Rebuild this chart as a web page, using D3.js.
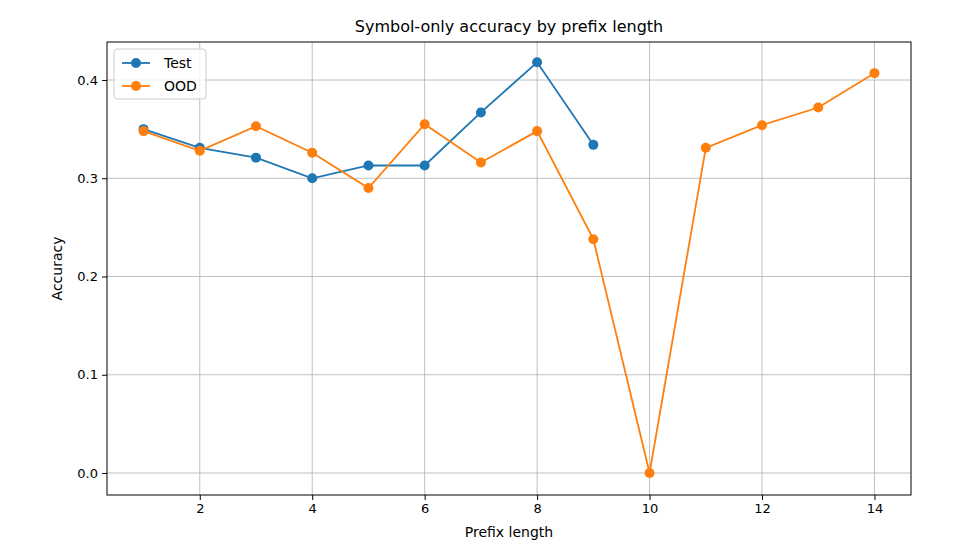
<!DOCTYPE html>
<html><head><meta charset="utf-8">
<script src="https://cdn.jsdelivr.net/npm/d3@7"></script>
<style>body{margin:0;background:#fff}text{font-family:"DejaVu Sans",sans-serif}</style>
</head><body>
<svg id="chart" width="960" height="540"></svg>
<script>
const prefixTest = [1,2,3,4,5,6,7,8,9];
const accTest = [0.350,0.331,0.321,0.300,0.313,0.313,0.367,0.418,0.334];
const prefixOod = [1,2,3,4,5,6,7,8,9,10,11,12,13,14];
const accOod = [0.348,0.328,0.353,0.326,0.290,0.355,0.316,0.348,0.238,0.0,0.331,0.354,0.372,0.407];
const xTicks = [2,4,6,8,10,12,14];
const yTicks = [0,0.1,0.2,0.3,0.4];

const svg = d3.select("#chart");
const L = 107, R = 911, T = 42, B = 495;
const x = d3.scaleLinear().domain([0.35,14.65]).range([L,R]);
const y = d3.scaleLinear().domain([-0.0224,0.4387]).range([B,T]);

const grid = svg.append("g").attr("stroke","#b0b0b0").attr("stroke-width",0.8);
xTicks.forEach(t => grid.append("line").attr("x1",x(t)).attr("x2",x(t)).attr("y1",T).attr("y2",B));
yTicks.forEach(t => grid.append("line").attr("x1",L).attr("x2",R).attr("y1",y(t)).attr("y2",y(t)));

const ax = svg.append("g").attr("transform","translate(0,"+B+")")
  .call(d3.axisBottom(x).tickValues(xTicks).tickSize(5).tickPadding(4).tickFormat(d3.format("d")));
const ay = svg.append("g").attr("transform","translate("+L+",0)")
  .call(d3.axisLeft(y).tickValues(yTicks).tickSize(5).tickPadding(4).tickFormat(d3.format(".1f")));
[ax,ay].forEach(a => { a.select(".domain").remove(); a.selectAll("text").attr("font-size",13).attr("fill","#000"); });
svg.append("rect").attr("x",L).attr("y",T).attr("width",R-L).attr("height",B-T)
  .attr("fill","none").attr("stroke","#000").attr("stroke-width",1);

function series(xs, ys, color){
  const pts = xs.map((d,i)=>[d,ys[i]]);
  svg.append("path").datum(pts).attr("fill","none").attr("stroke",color).attr("stroke-width",1.8)
    .attr("d", d3.line().x(d=>x(d[0])).y(d=>y(d[1])));
  svg.append("g").selectAll("circle").data(pts).join("circle")
    .attr("cx",d=>x(d[0])).attr("cy",d=>y(d[1])).attr("r",5).attr("fill",color);
}
series(prefixTest, accTest, "#1f77b4");
series(prefixOod, accOod, "#ff7f0e");

svg.append("text").attr("x",(L+R)/2).attr("y",32).attr("text-anchor","middle").attr("font-size",16).text("Symbol-only accuracy by prefix length");
svg.append("text").attr("x",(L+R)/2).attr("y",537).attr("text-anchor","middle").attr("font-size",14).text("Prefix length");
svg.append("text").attr("transform","translate(62,"+((T+B)/2)+") rotate(-90)").attr("text-anchor","middle").attr("font-size",14).text("Accuracy");

const lg = svg.append("g").attr("transform","translate(114,49)");
lg.append("rect").attr("width",92).attr("height",50).attr("rx",3).attr("fill","#fff").attr("fill-opacity",0.8).attr("stroke","#ccc");
[["Test","#1f77b4"],["OOD","#ff7f0e"]].forEach((d,i)=>{
  const g = lg.append("g").attr("transform","translate(8,"+(14+i*23)+")");
  g.append("line").attr("x1",0).attr("x2",28).attr("stroke",d[1]).attr("stroke-width",1.8);
  g.append("circle").attr("cx",14).attr("r",5).attr("fill",d[1]);
  g.append("text").attr("x",42).attr("y",5).attr("font-size",14).text(d[0]);
});
</script>
</body></html>
